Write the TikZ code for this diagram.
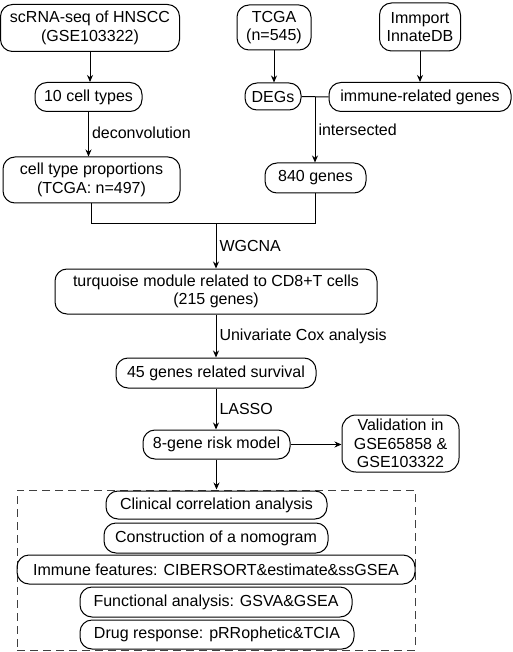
\documentclass[tikz,border=0pt]{standalone}
\usepackage{fontspec}
\setmainfont{Liberation Sans}
\usetikzlibrary{arrows.meta,positioning}
\tikzset{
  box/.style={draw=black,line width=1pt,rounded corners=12pt,align=center,inner sep=1pt,font=\fontsize{16}{18.5}\selectfont},
  flow/.style={line width=1pt,-{Stealth[length=7pt,width=6pt]}},
  note/.style={right,inner sep=3pt,font=\fontsize{16}{18.5}\selectfont}
}

\begin{document}
\begin{tikzpicture}[x=1pt,y=-1pt]
\useasboundingbox (0,0) rectangle (512,652);
% top row
\node (scrna) [box,minimum width=179pt,minimum height=47pt] at (90,28) {scRNA-seq of HNSCC\\(GSE103322)};
\node (tcga) [box,minimum width=74pt,minimum height=45pt] at (274,27.5) {TCGA\\(n=545)};
\node (immport) [box,minimum width=81pt,minimum height=48pt] at (420,27) {Immport\\InnateDB};
%
\node (celltypes) [box,minimum width=107pt,minimum height=29pt] at (88.5,97) {10 cell types};
\node (degs) [box,minimum width=56pt,minimum height=27pt] at (273,96.5) {DEGs};
\node (immune) [box,minimum width=182pt,minimum height=29pt] at (420,97) {immune-related genes};
\node (props) [box,minimum width=177pt,minimum height=46pt] at (91.5,180) {cell type proportions\\(TCGA: n=497)};
\node (genes840) [box,minimum width=101pt,minimum height=30pt] at (315.5,178) {840 genes};
% middle
\node (module) [box,minimum width=322pt,minimum height=45pt] at (216,291.5) {turquoise module related to CD8+T cells\\(215 genes)};
\node (genes45) [box,minimum width=200pt,minimum height=30pt] at (216,373) {45 genes related survival};
\node (risk) [box,minimum width=147pt,minimum height=29pt] at (216.5,444.5) {8-gene risk model};
\node (valid) [box,minimum width=117pt,minimum height=57pt,rounded corners=14pt] at (400.5,443.5) {Validation in\\GSE65858 \&\\GSE103322};
% analyses
\node (panel) [draw=black!75,line width=1pt,dash pattern=on 8pt off 5pt,minimum width=398pt,minimum height=160pt,inner sep=0pt] at (216,570) {};
\node (clinical) [box,minimum width=221pt,minimum height=28pt] at (216.5,505) {Clinical correlation analysis};
\node (nomogram) [box,minimum width=224pt,minimum height=30pt] at (216,538) {Construction of a nomogram};
\node (features) [box,minimum width=398pt,minimum height=29pt] at (216,569.5) {Immune features: CIBERSORT\&estimate\&ssGSEA};
\node (functional) [box,minimum width=272pt,minimum height=30pt] at (216,602) {Functional analysis: GSVA\&GSEA};
\node (drug) [box,minimum width=274pt,minimum height=29pt] at (217,634.5) {Drug response: pRRophetic\&TCIA};
%
\coordinate (join) at (315,97);
\coordinate (merge) at (216,223);
\path[flow] (scrna.south) edge (scrna.south |- celltypes.north);
\path[flow] (celltypes.south) edge node[note,pos=0.47] {deconvolution} (celltypes.south |- props.north);
\path[flow] (tcga.south) edge (tcga.south |- degs.north);
\path[flow] (immport.south) edge (immport.south |- immune.north);
\draw[line width=1pt] (degs.east) -- (immune.west);
\path[flow] (join) edge node[note,pos=0.5] {intersected} (join |- genes840.north);
\draw[line width=1pt] (props.south) -- (props.south |- merge) -- (genes840.south |- merge) -- (genes840.south);
\path[flow] (merge) edge node[note] {WGCNA} (module.north);
\path[flow] (module.south) edge node[note] {Univariate Cox analysis} (genes45.north);
\path[flow] (genes45.south) edge node[note] {LASSO} (genes45.south |- risk.north);
\path[flow] (risk.east) edge (risk.east -| valid.west);
\path[flow] (risk.south) edge (risk.south |- panel.north);
\end{tikzpicture}
\end{document}
